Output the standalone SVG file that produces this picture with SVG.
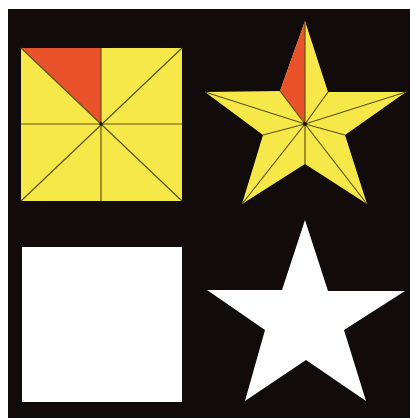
<svg xmlns="http://www.w3.org/2000/svg" width="410" height="418" viewBox="0 0 410 418">
<style>
.y{fill:#f7e84a}
.r{fill:#e9522a}
.w{fill:#ffffff}
.l{stroke:#5e5412;stroke-width:1.2;fill:none}
</style>
<rect x="0" y="0" width="410" height="418" fill="#ffffff"/>
<rect x="8" y="9" width="402" height="409" fill="#110b0b"/>
<g id="square-divided">
<rect class="y" x="21" y="48" width="161" height="153"/>
<polygon class="r" points="21,48 101,48 101,124"/>
<g class="l">
<line x1="21" y1="48" x2="182" y2="201"/>
<line x1="182" y1="48" x2="21" y2="201"/>
<line x1="101" y1="48" x2="101" y2="201"/>
<line x1="21" y1="124" x2="182" y2="124"/>
</g>
<circle cx="101" cy="124" r="1.8" fill="#1a1406"/>
</g>
<g id="star-divided">
<polygon class="y" points="305,21 328,92 406,92 345,135 367,204 305,164 242,204 263,135 205,92 280,91"/>
<polygon class="r" points="305,21 280,91 305,124"/>
<g class="l">
<line x1="305" y1="124" x2="305" y2="21"/>
<line x1="305" y1="124" x2="328" y2="92"/>
<line x1="305" y1="124" x2="406" y2="92"/>
<line x1="305" y1="124" x2="345" y2="135"/>
<line x1="305" y1="124" x2="367" y2="204"/>
<line x1="305" y1="124" x2="305" y2="164"/>
<line x1="305" y1="124" x2="242" y2="204"/>
<line x1="305" y1="124" x2="263" y2="135"/>
<line x1="305" y1="124" x2="205" y2="92"/>
<line x1="305" y1="124" x2="280" y2="91"/>
</g>
<circle cx="305" cy="124" r="2" fill="#1a1406"/>
</g>
<g id="square-plain">
<rect class="w" x="22" y="247" width="160" height="155"/>
</g>
<g id="star-plain">
<polygon class="w" points="305,220 328,291 405,291 344,330 366,401 306,360 245,401 265,330 207,290 282,290"/>
</g>
<g id="connectors"/>
</svg>
